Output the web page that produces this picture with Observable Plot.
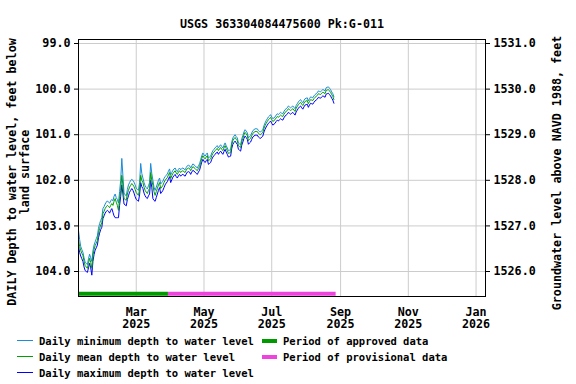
<!DOCTYPE html>
<html><head><meta charset="utf-8">
<script src="https://cdn.jsdelivr.net/npm/d3@7"></script>
<script src="https://cdn.jsdelivr.net/npm/@observablehq/plot@0.6"></script>
<style>
body{margin:0;background:#fff;}
#wrap{position:relative;width:576px;height:384px;font-family:"DejaVu Sans Mono",monospace;font-weight:bold;color:#000;}
.lg{position:absolute;white-space:pre;line-height:14px;font-size:10.5px;font-weight:bold;font-family:"DejaVu Sans Mono",monospace;}
.sw{position:absolute;}
</style></head><body><div id="wrap"></div>
<script>
const title = "USGS 363304084475600 Pk:G-011";
const leftLabel1 = "DAILY Depth to water level, feet below";
const leftLabel2 = "land surface";
const rightLabel = "Groundwater level above NAVD 1988, feet";
const landSurface = 1630.0;
const startDate = "2025-01-08";

// Daily mean depth to water (feet below land surface), Jan 8 – Aug 27, 2025
const meanDepth = [
103.32,103.45,103.54,103.60,103.65,103.78,103.87,103.90,103.93,103.82,103.71,103.80,103.93,103.65,103.52,103.43,103.38,103.32,103.15,103.06,
102.98,102.93,102.73,102.68,102.62,102.58,102.55,102.57,102.60,102.55,102.51,102.55,102.46,102.40,102.48,102.55,102.66,102.40,102.22,101.89,
102.11,102.40,102.42,102.44,102.30,102.22,102.15,102.11,102.07,102.10,102.14,102.20,102.27,102.30,102.33,102.20,101.89,102.00,102.05,102.15,
102.22,102.26,102.29,102.22,102.18,101.83,102.00,102.11,102.25,102.33,102.25,102.18,102.10,102.05,102.18,102.15,102.11,102.05,102.00,101.97,
101.94,101.88,101.83,101.96,101.90,101.85,101.82,101.79,101.84,101.87,101.82,101.79,101.83,101.80,101.79,101.81,101.83,101.78,101.74,101.73,
101.74,101.79,101.74,101.70,101.72,101.74,101.77,101.79,101.74,101.70,101.61,101.52,101.46,101.50,101.53,101.49,101.46,101.57,101.55,101.53,
101.46,101.41,101.38,101.35,101.32,101.30,101.35,101.31,101.28,101.32,101.35,101.29,101.24,101.30,101.35,101.41,101.40,101.39,101.22,101.13,
101.09,101.06,101.10,101.13,101.24,101.26,101.28,101.15,101.08,101.00,100.95,100.98,101.02,101.13,101.10,101.08,101.02,100.97,100.95,100.93,
100.93,100.93,100.97,100.99,101.00,100.97,100.95,100.86,100.80,100.75,100.71,100.67,100.65,100.62,100.67,100.71,100.69,100.67,100.63,100.60,
100.62,100.59,100.57,100.59,100.60,100.55,100.51,100.49,100.47,100.43,100.45,100.47,100.45,100.43,100.46,100.49,100.42,100.38,100.34,100.31,
100.29,100.33,100.36,100.31,100.27,100.26,100.25,100.32,100.27,100.23,100.24,100.25,100.21,100.18,100.16,100.14,100.10,100.11,100.12,100.09,
100.07,100.08,100.10,100.03,100.02,100.01,100.04,100.07,100.12,100.16,100.23
];
// Daily minimum depth to water
const minDepth = [
103.10,103.30,103.45,103.52,103.58,103.70,103.80,103.82,103.85,103.72,103.62,103.70,103.78,103.55,103.42,103.35,103.28,103.22,103.05,102.95,
102.88,102.82,102.62,102.58,102.52,102.48,102.45,102.48,102.50,102.45,102.42,102.45,102.35,102.30,102.38,102.42,102.50,102.25,102.00,101.52,
101.90,102.28,102.32,102.34,102.20,102.10,102.05,102.00,101.98,102.00,102.04,102.10,102.17,102.20,102.22,102.05,101.63,101.85,101.95,102.05,
102.12,102.16,102.19,102.12,102.05,101.63,101.85,102.00,102.15,102.22,102.15,102.08,102.00,101.95,102.08,102.05,102.02,101.96,101.92,101.89,
101.86,101.80,101.75,101.88,101.83,101.78,101.75,101.73,101.78,101.81,101.76,101.73,101.77,101.74,101.73,101.75,101.77,101.72,101.68,101.67,
101.68,101.73,101.68,101.64,101.66,101.68,101.71,101.73,101.68,101.64,101.55,101.46,101.40,101.44,101.47,101.43,101.40,101.51,101.49,101.47,
101.40,101.35,101.32,101.29,101.26,101.24,101.29,101.25,101.22,101.26,101.29,101.23,101.18,101.24,101.29,101.35,101.34,101.33,101.16,101.07,
101.03,101.00,101.04,101.07,101.18,101.20,101.22,101.09,101.02,100.94,100.89,100.92,100.96,101.07,101.04,101.02,100.96,100.91,100.89,100.87,
100.87,100.87,100.91,100.93,100.94,100.91,100.89,100.80,100.74,100.69,100.65,100.61,100.59,100.56,100.61,100.65,100.63,100.61,100.57,100.54,
100.56,100.53,100.51,100.53,100.54,100.49,100.45,100.43,100.41,100.37,100.39,100.41,100.39,100.37,100.40,100.43,100.36,100.32,100.28,100.25,
100.23,100.27,100.30,100.25,100.21,100.20,100.19,100.26,100.21,100.17,100.18,100.19,100.15,100.12,100.10,100.08,100.04,100.05,100.06,100.03,
100.01,100.02,100.04,99.97,99.96,99.95,99.98,100.01,100.06,100.10,100.17
];
// Daily maximum depth to water
const maxDepth = [
103.45,103.58,103.66,103.72,103.78,103.90,103.98,104.00,104.02,103.92,103.82,103.92,104.08,103.78,103.63,103.53,103.48,103.42,103.26,103.16,
103.08,103.03,102.84,102.78,102.72,102.68,102.66,102.68,102.72,102.66,102.62,102.70,102.78,102.82,102.82,102.82,102.82,102.55,102.35,102.10,
102.30,102.52,102.54,102.56,102.42,102.34,102.26,102.22,102.18,102.22,102.28,102.36,102.42,102.44,102.46,102.32,102.05,102.14,102.18,102.28,
102.34,102.38,102.40,102.34,102.30,102.00,102.15,102.40,102.44,102.46,102.38,102.30,102.22,102.16,102.29,102.26,102.22,102.16,102.10,102.06,
102.03,101.97,101.92,102.05,101.99,101.93,101.90,101.87,101.92,101.95,101.90,101.87,101.91,101.88,101.87,101.89,101.91,101.86,101.82,101.81,
101.82,101.87,101.82,101.78,101.80,101.82,101.85,101.87,101.82,101.78,101.69,101.60,101.54,101.58,101.61,101.57,101.54,101.65,101.63,101.61,
101.54,101.49,101.46,101.43,101.40,101.38,101.43,101.39,101.36,101.40,101.43,101.37,101.32,101.38,101.43,101.49,101.48,101.47,101.30,101.21,
101.17,101.14,101.18,101.21,101.32,101.34,101.36,101.23,101.16,101.08,101.03,101.06,101.10,101.21,101.18,101.16,101.10,101.05,101.03,101.01,
101.01,101.01,101.05,101.07,101.08,101.05,101.03,100.94,100.88,100.83,100.79,100.75,100.73,100.70,100.75,100.79,100.77,100.75,100.71,100.68,
100.70,100.67,100.65,100.67,100.68,100.63,100.59,100.57,100.55,100.51,100.53,100.55,100.53,100.51,100.54,100.57,100.50,100.46,100.42,100.39,
100.37,100.41,100.44,100.39,100.35,100.34,100.33,100.40,100.35,100.31,100.32,100.33,100.29,100.26,100.24,100.22,100.18,100.19,100.20,100.17,
100.15,100.16,100.18,100.11,100.10,100.09,100.12,100.15,100.20,100.24,100.31
];

const periodNames = ["Period of approved data", "Period of provisional data"];
const periodStart = ["2025-01-08", "2025-03-30"];
const periodEnd = ["2025-03-30", "2025-08-28"];

const yTicks = [99, 100, 101, 102, 103, 104];
const xTicks = ["2025-03-01", "2025-05-01", "2025-07-01", "2025-09-01", "2025-11-01", "2026-01-01"];
const xDomain = ["2025-01-08T00:00Z", "2026-01-09T12:00Z"];
const yDomain = [98.912, 104.548];

const seriesNames = ["Daily minimum depth to water level", "Daily mean depth to water level", "Daily maximum depth to water level"];
const seriesColors = ["#1a8cd8", "#00a000", "#0000ff"];
const periodColors = ["#009900", "#ee44dd"];

const start = new Date(startDate + "T00:00Z");
const rows = meanDepth.map((v, i) => ({date: d3.utcDay.offset(start, i), mean: v, min: minDepth[i], max: maxDepth[i]}));
const periods = periodNames.map((n, i) => ({name: n, start: new Date(periodStart[i] + "T00:00Z"), end: new Date(periodEnd[i] + "T00:00Z"), color: periodColors[i]}));
const xTickDates = xTicks.map(d => new Date(d + "T00:00Z"));
const fmt = d3.utcFormat("%b\n%Y");

const chart = Plot.plot({
  width: 576, height: 384,
  marginTop: 39, marginBottom: 88, marginLeft: 78, marginRight: 91,
  style: {fontFamily: "DejaVu Sans Mono", fontSize: "11.7px", fontWeight: "bold", color: "black", background: "white", overflow: "visible"},
  x: {type: "utc", domain: xDomain.map(d => new Date(d))},
  y: {domain: yDomain, reverse: true},
  marks: [
    Plot.gridX(xTickDates, {stroke: "#cccccc", strokeOpacity: 1}),
    Plot.gridY(yTicks, {stroke: "#cccccc", strokeOpacity: 1}),
    Plot.line(rows, {x: "date", y: "min", stroke: seriesColors[0], strokeWidth: 1}),
    Plot.line(rows, {x: "date", y: "max", stroke: seriesColors[2], strokeWidth: 1}),
    Plot.line(rows, {x: "date", y: "mean", stroke: seriesColors[1], strokeWidth: 1}),
    Plot.ruleY(periods, {x1: "start", x2: "end", y: () => 104.487, stroke: "color", strokeWidth: 4}),
    Plot.axisY(yTicks, {anchor: "left", tickSize: 4, tickPadding: 4, tickFormat: d => d.toFixed(1), label: null}),
    Plot.axisY(yTicks, {anchor: "right", tickSize: 4, tickPadding: 4, tickFormat: d => (landSurface - d).toFixed(1), label: null}),
    Plot.axisX(xTickDates, {anchor: "bottom", tickSize: 0, tickPadding: 10.5, tickFormat: d => fmt(d), label: null, lineHeight: 1.03}),
    Plot.frame({stroke: "black"}),
    Plot.text([title], {text: d => d, frameAnchor: "top", dy: -20}),
    Plot.text([leftLabel1], {text: d => d, frameAnchor: "left", textAnchor: "middle", dx: -66, dy: 4, rotate: -90}),
    Plot.text([leftLabel2], {text: d => d, frameAnchor: "left", textAnchor: "middle", dx: -53, dy: 4, rotate: -90}),
    Plot.text([rightLabel], {text: d => d, frameAnchor: "right", textAnchor: "middle", dx: 72, dy: 5, rotate: -90})
  ]
});
const wrap = document.getElementById("wrap");
chart.style.position = "absolute";
chart.style.left = "0";
chart.style.top = "0";
wrap.appendChild(chart);

// legend
const legendRows = [341, 357, 373];
seriesNames.forEach((n, i) => {
  const sw = document.createElement("div");
  sw.className = "sw";
  sw.style.cssText = `left:17px;top:${legendRows[i] - 1}px;width:16px;height:1px;background:${seriesColors[i]}`;
  wrap.appendChild(sw);
  const t = document.createElement("div");
  t.className = "lg";
  t.style.cssText = `left:39px;top:${legendRows[i] - 7}px`;
  t.textContent = n;
  wrap.appendChild(t);
});
periods.forEach((p, i) => {
  const sw = document.createElement("div");
  sw.className = "sw";
  sw.style.cssText = `left:262px;top:${legendRows[i] - 2}px;width:15px;height:4px;background:${p.color}`;
  wrap.appendChild(sw);
  const t = document.createElement("div");
  t.className = "lg";
  t.style.cssText = `left:283px;top:${legendRows[i] - 7}px`;
  t.textContent = p.name;
  wrap.appendChild(t);
});
</script>
</body></html>
